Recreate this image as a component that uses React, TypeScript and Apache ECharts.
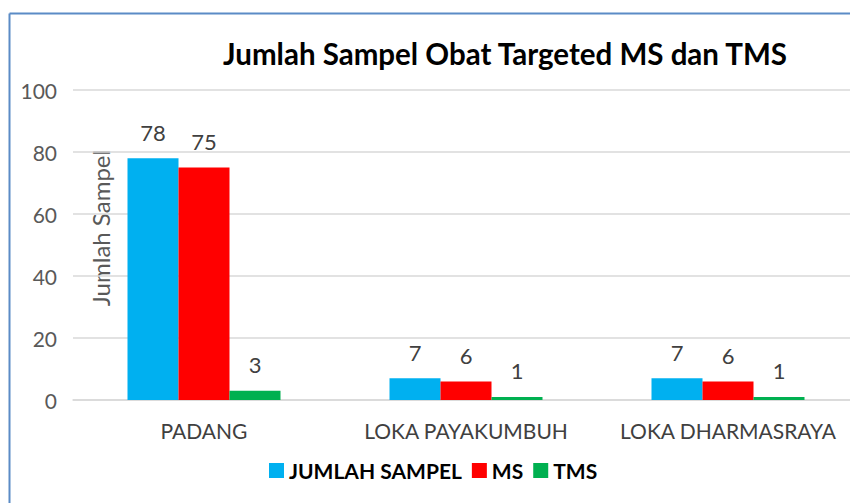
import React, { useEffect, useRef } from "react";
import * as echarts from "echarts";

const categories = ["PADANG", "LOKA PAYAKUMBUH", "LOKA DHARMASRAYA"];
const jumlahSampel = [78, 7, 7];
const ms = [75, 6, 6];
const tms = [3, 1, 1];
const seriesNames = ["JUMLAH SAMPEL", "MS", "TMS"];
const colors = ["#00b0f0", "#ff0000", "#00b050"];
const yAxisTitle = "Jumlah Sampel";

export default function App() {
  const ref = useRef<HTMLDivElement>(null);
  useEffect(() => {
    document.body.style.margin = "0";
    const chart = echarts.init(ref.current!, null, { renderer: "svg" });
    const font = "Lato, 'Open Sans', sans-serif";
    const label = {
      show: true,
      position: "top" as const,
      distance: 15,
      color: "#404040",
      fontSize: 22,
      fontFamily: font,
    };
    const data = [jumlahSampel, ms, tms];
    chart.setOption({
      animation: false,
      backgroundColor: "#ffffff",
      title: {
        text: "Jumlah Sampel Obat Targeted MS dan TMS",
        left: 500,
        top: 33,
        textAlign: "center",
        textStyle: { fontSize: 29.5, fontWeight: "bold", color: "#000", fontFamily: font },
      },
      legend: {
        data: seriesNames,
        top: 455,
        left: 264,
        itemWidth: 15,
        itemHeight: 15,
        itemGap: 10,
        icon: "rect",
        textStyle: { fontSize: 21, fontWeight: "bold", color: "#000", fontFamily: font },
      },
      grid: { left: 73, top: 90, width: 786, height: 310 },
      xAxis: {
        type: "category",
        data: categories,
        axisLine: { lineStyle: { color: "#d9d9d9", width: 1.5 } },
        axisTick: { show: false },
        axisLabel: { interval: 0, hideOverlap: false, color: "#404040", fontSize: 21, margin: 20, fontFamily: font },
      },
      yAxis: {
        type: "value",
        min: 0,
        max: 100,
        interval: 20,
        axisLine: { show: false },
        axisTick: { show: false },
        axisLabel: { color: "#595959", fontSize: 21, margin: 16, fontFamily: font },
        splitLine: { lineStyle: { color: "#d9d9d9", width: 1.5 } },
      },
      series: seriesNames.map((name, i) => ({
        name,
        type: "bar",
        data: data[i],
        barWidth: 51,
        barGap: "0%",
        itemStyle: { color: colors[i] },
        label,
      })),
      graphic: [
        {
          type: "text",
          x: 100,
          y: 228,
          rotation: Math.PI / 2,
          style: {
            text: yAxisTitle,
            fill: "#595959",
            fontSize: 24,
            fontFamily: font,
            textAlign: "center",
            textVerticalAlign: "middle",
          },
        },
        { type: "line", shape: { x1: 9.5, y1: 13.5, x2: 870, y2: 13.5 }, style: { stroke: "#5b8bc6", lineWidth: 2 } },
        { type: "line", shape: { x1: 9.5, y1: 13.5, x2: 9.5, y2: 503 }, style: { stroke: "#5b8bc6", lineWidth: 2 } },
      ],
    });
    return () => chart.dispose();
  }, []);
  return (
    <div style={{ width: 850, height: 503, overflow: "hidden" }}>
      <div ref={ref} style={{ width: 870, height: 503 }} />
    </div>
  );
}
